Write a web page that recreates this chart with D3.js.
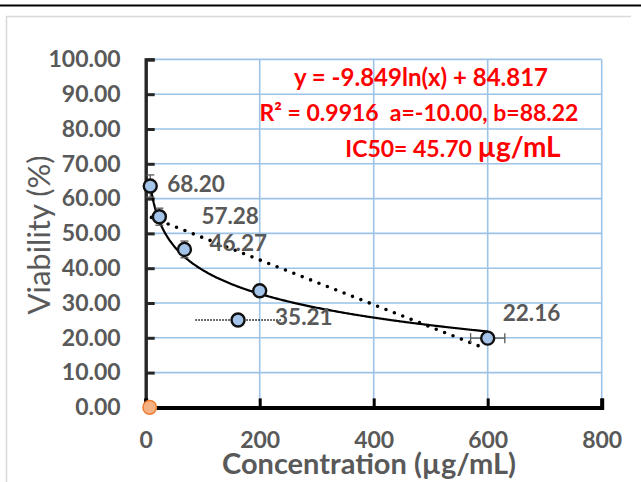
<!DOCTYPE html>
<html>
<head>
<meta charset="utf-8">
<script src="https://cdn.jsdelivr.net/npm/d3@7"></script>
<style>
  body { margin: 0; background: #fff; }
  svg text { font-family: Lato, "Open Sans", sans-serif; white-space: pre; }
</style>
</head>
<body>
<svg id="chart" width="641" height="482"></svg>
<script>
// ----- data -----
const concX = [8, 24, 68, 200, 162, 600];
const viabY = [63.6, 54.8, 45.4, 33.5, 25.1, 19.9];
const yErr = [3.2, 2.45, 2.4, 0, 0, 0];
const xErr = [0, 0, 0, 0, 0, 30];
const xSpread = [0, 0, 0, 0, 75, 0]; // dotted horizontal bar
const pointLabels = ["68.20", "57.28", "46.27", "", "35.21", "22.16"];
const labelDx = [17, 42, 25, 0, 37, 15];
const labelDy = [-2, -1, -6, 0, -3, -25];
const blankPoint = { x: 7, y: 0 };
const logA = -9.849, logB = 84.817;
const linTrend = [{ x: 10, y: 54.6 }, { x: 590, y: 17.3 }];
const xTicks = [0, 200, 400, 600, 800];
const yTicks = d3.range(0, 101, 10);
const eqLines = ["y = -9.849ln(x) + 84.817", "R\u00b2 = 0.9916  a=-10.00, b=88.22"];

const svg = d3.select("svg#chart");
const grey = "#595959";

// frame
svg.append("line").attr("x1", 0).attr("x2", 641).attr("y1", 5.5).attr("y2", 5.5)
  .attr("stroke", "#000").attr("stroke-width", 2.2);
svg.append("path").attr("d", "M6.5,482 V16.5 H631")
  .attr("fill", "none").attr("stroke", "#d9d9d9").attr("stroke-width", 1.5);

var x = d3.scaleLinear().domain([0, 800]).range([145.7, 601.7]);
var y = d3.scaleLinear().domain([0, 100]).range([407.4, 59.4]);

// grid
var grid = svg.append("g");
grid.selectAll("line.h").data(yTicks.slice(1)).join("line")
  .attr("class", "h")
  .attr("x1", x(0)).attr("x2", x(800))
  .attr("y1", d => y(d)).attr("y2", d => y(d))
  .attr("stroke", "#9dc3e6").attr("stroke-width", 1.6);
grid.selectAll("line.v").data(xTicks.slice(1)).join("line")
  .attr("class", "v")
  .attr("y1", y(0)).attr("y2", y(100))
  .attr("x1", d => x(d)).attr("x2", d => x(d))
  .attr("stroke", "#9dc3e6").attr("stroke-width", 1.6);

// axes
var yAxis = svg.append("g").attr("transform", `translate(${x(0)},0)`)
  .call(d3.axisLeft(y).tickValues(yTicks).tickSize(-9).tickFormat(d3.format(".2f")).tickPadding(25));
yAxis.select(".domain").attr("stroke", "#262626").attr("stroke-width", 3.4);
yAxis.selectAll(".tick line").attr("stroke", "#262626").attr("stroke-width", 3);
yAxis.selectAll(".tick text").attr("fill", grey).attr("font-size", 23).attr("font-weight", "bold");

var xAxis = svg.append("g").attr("transform", `translate(0,${y(0)})`)
  .call(d3.axisBottom(x).tickValues(xTicks).tickSize(-9).tickFormat(d3.format("d")).tickPadding(24));
xAxis.select(".domain").attr("stroke", "#000").attr("stroke-width", 4);
xAxis.selectAll(".tick line").attr("stroke", "#000").attr("stroke-width", 3);
xAxis.selectAll(".tick text").attr("fill", grey).attr("font-size", 23).attr("font-weight", "bold");

// axis titles
svg.append("text").attr("x", 369).attr("y", 474).attr("text-anchor", "middle")
  .attr("fill", grey).attr("font-size", 29).attr("font-weight", "bold")
  .text("Concentration (\u00b5g/mL)");
svg.append("text").attr("transform", "translate(50,235) rotate(-90)").attr("text-anchor", "middle")
  .attr("fill", grey).attr("font-size", 31)
  .text("Viability (%)");

// trendlines
var logCurve = d3.range(concX[0], 600.01, 2).map(v => ({ x: v, y: logA * Math.log(v) + logB }));
var line = d3.line().x(d => x(d.x)).y(d => y(d.y));
svg.append("path").datum(logCurve).attr("d", line)
  .attr("fill", "none").attr("stroke", "#000").attr("stroke-width", 2.2);
svg.append("path").datum(linTrend).attr("d", line)
  .attr("fill", "none").attr("stroke", "#000").attr("stroke-width", 3.6)
  .attr("stroke-linecap", "round").attr("stroke-dasharray", "0 9");

var pts = concX.map((v, i) => ({ x: v, y: viabY[i], ye: yErr[i], xe: xErr[i], xs: xSpread[i], label: pointLabels[i], dx: labelDx[i], dy: labelDy[i] }));

// error bars
var eb = svg.append("g").attr("stroke", grey).attr("stroke-width", 1.3);
pts.filter(d => d.ye > 0).forEach(d => {
  eb.append("line").attr("x1", x(d.x)).attr("x2", x(d.x)).attr("y1", y(d.y - d.ye)).attr("y2", y(d.y + d.ye));
  [d.y - d.ye, d.y + d.ye].forEach(v =>
    eb.append("line").attr("x1", x(d.x) - 4).attr("x2", x(d.x) + 4).attr("y1", y(v)).attr("y2", y(v)));
});
pts.filter(d => d.xe > 0).forEach(d => {
  eb.append("line").attr("x1", x(d.x - d.xe)).attr("x2", x(d.x + d.xe)).attr("y1", y(d.y)).attr("y2", y(d.y));
  [d.x - d.xe, d.x + d.xe].forEach(v =>
    eb.append("line").attr("x1", x(v)).attr("x2", x(v)).attr("y1", y(d.y) - 5).attr("y2", y(d.y) + 5));
});
pts.filter(d => d.xs > 0).forEach(d => {
  svg.append("line").attr("x1", x(d.x - d.xs)).attr("x2", x(d.x + d.xs)).attr("y1", y(d.y)).attr("y2", y(d.y))
    .attr("stroke", "#000").attr("stroke-width", 1.5).attr("stroke-dasharray", "1.5 1.5");
});

// points
svg.selectAll("circle.pt").data(pts).join("circle")
  .attr("class", "pt")
  .attr("cx", d => x(d.x)).attr("cy", d => y(d.y)).attr("r", 6.5)
  .attr("fill", "#a4c4ea").attr("stroke", "#111").attr("stroke-width", 2.4);
svg.append("circle").attr("cx", x(blankPoint.x)).attr("cy", y(blankPoint.y)).attr("r", 6.8)
  .attr("fill", "#f4b183").attr("stroke", "#ed7d31").attr("stroke-width", 1.5);

// data labels
svg.selectAll("text.lbl").data(pts.filter(d => d.label)).join("text")
  .attr("class", "lbl")
  .attr("x", d => x(d.x) + d.dx).attr("y", d => y(d.y) + d.dy)
  .attr("dy", "0.35em")
  .attr("fill", grey).attr("font-size", 22.5).attr("font-weight", "bold")
  .text(d => d.label);

// equation box
var eq = svg.append("g").attr("fill", "#ff0000").attr("font-weight", "bold").attr("text-anchor", "middle");
eq.append("text").attr("x", 421).attr("y", 86).attr("font-size", 24).text(eqLines[0]);
eq.append("text").attr("x", 419).attr("y", 121).attr("font-size", 23).text(eqLines[1]);
var ic = eq.append("text").attr("x", 453).attr("y", 157).attr("font-size", 23);
ic.append("tspan").text("IC50= 45.70 ");
ic.append("tspan").attr("font-size", 28).text("\u00b5g/mL");
</script>
</body>
</html>
